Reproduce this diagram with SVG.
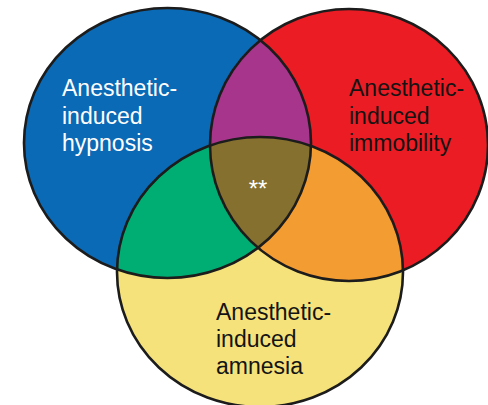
<svg xmlns="http://www.w3.org/2000/svg" width="488" height="405" viewBox="0 0 488 405">
  <style>
    .lbl { font-family: "Liberation Sans", Arial, Helvetica, sans-serif; font-size: 23px; }
    .w { fill: #ffffff; }
    .k { fill: #141414; }
    .edge { fill: none; stroke: #1c1c1c; stroke-width: 2.6; }
  </style>
  <defs>
    <ellipse id="eBlue" cx="167.5" cy="143" rx="143.5" ry="135"/>
    <ellipse id="eRed" cx="349" cy="145" rx="139" ry="136"/>
    <ellipse id="eYel" cx="260" cy="272" rx="143" ry="135"/>
    <clipPath id="cBlue"><use href="#eBlue"/></clipPath>
    <clipPath id="cRed"><use href="#eRed"/></clipPath>
  </defs>
  <rect width="488" height="405" fill="#ffffff"/>

  <g id="fills">
    <use href="#eBlue" fill="#0a6ab6"/>
    <use href="#eRed" fill="#ec1c24"/>
    <use href="#eYel" fill="#f5e27a"/>
    <use href="#eRed" fill="#a7358b" clip-path="url(#cBlue)"/>
    <use href="#eYel" fill="#00ae73" clip-path="url(#cBlue)"/>
    <use href="#eYel" fill="#f39c31" clip-path="url(#cRed)"/>
    <g clip-path="url(#cBlue)">
      <use href="#eYel" fill="#86702f" clip-path="url(#cRed)"/>
    </g>
  </g>

  <g id="hypnosis">
    <use href="#eBlue" class="edge"/>
    <text class="lbl w" x="62" y="96">Anesthetic-</text>
    <text class="lbl w" x="62" y="124">induced</text>
    <text class="lbl w" x="62" y="151">hypnosis</text>
  </g>
  <g id="immobility">
    <use href="#eRed" class="edge"/>
    <text class="lbl k" x="349" y="96">Anesthetic-</text>
    <text class="lbl k" x="349" y="124">induced</text>
    <text class="lbl k" x="349" y="151">immobility</text>
  </g>
  <g id="amnesia">
    <use href="#eYel" class="edge"/>
    <text class="lbl k" x="216" y="320">Anesthetic-</text>
    <text class="lbl k" x="216" y="347">induced</text>
    <text class="lbl k" x="216" y="374">amnesia</text>
  </g>
  <g id="core">
    <text class="lbl w" x="258" y="197" text-anchor="middle" style="font-size:24px">**</text>
  </g>
</svg>
